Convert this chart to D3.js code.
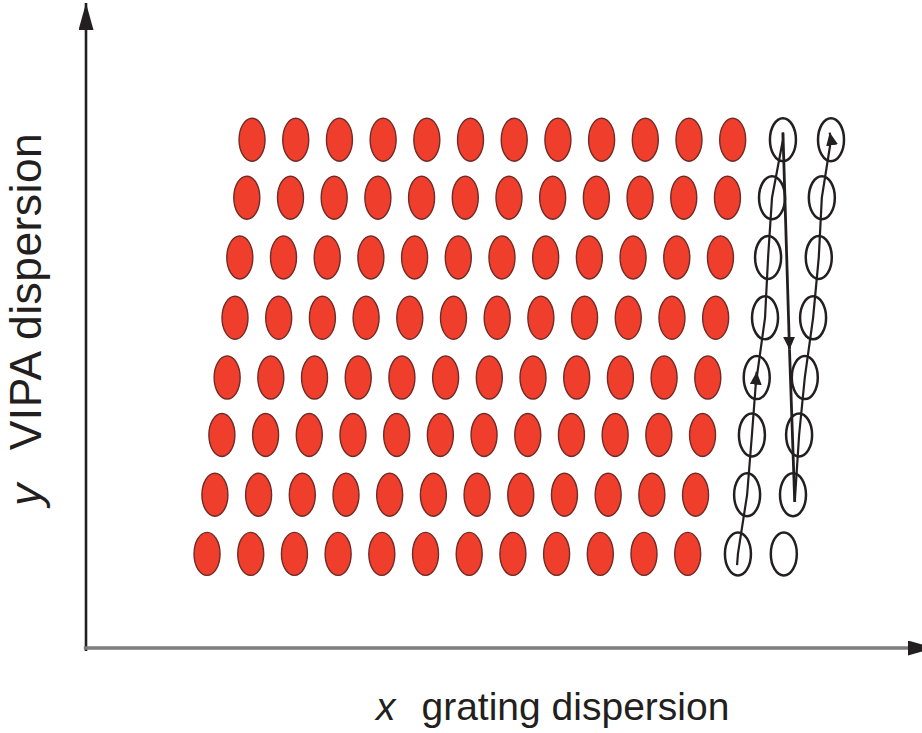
<!DOCTYPE html>
<html>
<head>
<meta charset="utf-8">
<script src="https://d3js.org/d3.v7.min.js"></script>
<style>
  body { margin: 0; background: #fff; }
  .lbl { font-family: "Liberation Sans", Arial, sans-serif; fill: #231f20; }
</style>
</head>
<body>
<div id="chart"></div>
<script>
// rows of the VIPA (height above x axis), top row first
const vipaLevels = [8.59, 7.61, 6.60, 5.58, 4.57, 3.60, 2.59, 1.59];
// grating position of the first red spot in each row (rows tilt)
const rowStart = [3.80, 3.68, 3.52, 3.41, 3.23, 3.11, 2.95, 2.77];
// 12 grating steps per row
const gratingSteps = [0, 1, 2, 3, 4, 5, 6, 7, 8, 9, 10, 11];
// the two open (unfilled) columns, top row first
const openA = [15.95, 15.70, 15.61, 15.54, 15.35, 15.24, 15.13, 14.92];
const openB = [17.05, 16.84, 16.77, 16.64, 16.45, 16.32, 16.18, 15.97];
// scan path key points [x, level]
const scanAStart = [14.90, 1.40];
const scanAArrow = [15.35, 4.67];
const scanATop = [15.95, 8.71];
const fallArrow = [16.10, 5.04];
const fallEnd = [16.22, 2.47];
const scanBTop = [17.02, 8.71];

const w = 922;
const h = 733;

const svg = d3.select('#chart')
              .append('svg')
              .attr('width', w)
              .attr('height', h);

// 1 unit ~ 43.7px across, 59.1px up
const xScale = d3.scaleLinear().domain([0, 19.43]).range([86, 935]);
const yScale = d3.scaleLinear().domain([0, 10.9]).range([648, 3]);

const line = d3.line().x(d => xScale(d[0])).y(d => yScale(d[1]));

// arrow heads
const defs = svg.append('defs');
function marker(id, len, wid) {
  defs.append('marker')
      .attr('id', id)
      .attr('viewBox', '0 0 10 10')
      .attr('refX', 10)
      .attr('refY', 5)
      .attr('markerUnits', 'userSpaceOnUse')
      .attr('markerWidth', len)
      .attr('markerHeight', wid)
      .attr('orient', 'auto')
      .attr('preserveAspectRatio', 'none')
      .append('path')
      .attr('d', 'M0,0 L10,5 L0,10 z')
      .attr('fill', '#231f20');
}
marker('axisHead', 27, 15);
marker('scanHead', 13, 12);

// axes
svg.append('path')
   .attr('d', line([[0, -0.05], [0, 10.9]]))
   .attr('stroke', '#231f20')
   .attr('stroke-width', 2.6)
   .attr('fill', 'none')
   .attr('marker-end', 'url(#axisHead)');
svg.append('path')
   .attr('d', line([[-0.05, 0], [19.43, 0]]))
   .attr('stroke', '#7d7d7d')
   .attr('stroke-width', 3.6)
   .attr('fill', 'none')
   .attr('marker-end', 'url(#axisHead)');

// red spots
const spots = [];
vipaLevels.forEach((lv, r) => {
  gratingSteps.forEach(g => spots.push([rowStart[r] + g, lv]));
});
svg.selectAll('ellipse.spot')
   .data(spots)
   .enter()
   .append('ellipse')
   .attr('class', 'spot')
   .attr('cx', d => xScale(d[0]))
   .attr('cy', d => yScale(d[1]))
   .attr('rx', 13)
   .attr('ry', 21.5)
   .attr('fill', '#ef3e2b')
   .attr('stroke', '#6e2b27')
   .attr('stroke-width', 1.4);

// open spots
const openSpots = vipaLevels.map((lv, i) => [openA[i], lv])
                  .concat(vipaLevels.map((lv, i) => [openB[i], lv]));
svg.selectAll('ellipse.open')
   .data(openSpots)
   .enter()
   .append('ellipse')
   .attr('class', 'open')
   .attr('cx', d => xScale(d[0]))
   .attr('cy', d => yScale(d[1]))
   .attr('rx', 13)
   .attr('ry', 21.5)
   .attr('fill', 'none')
   .attr('stroke', '#231f20')
   .attr('stroke-width', 2.5);

// scan lines
const colA = vipaLevels.map((lv, i) => [openA[i], lv]).reverse(); // bottom -> top
const colB = vipaLevels.map((lv, i) => [openB[i], lv]).reverse();
const scans = [
  { pts: [scanAStart].concat(colA.slice(0, 3), [scanAArrow]), head: true, sw: 2.2 },
  { pts: colA.slice(3).concat([scanATop]), head: false, sw: 2.2 },
  { pts: [scanATop, fallArrow], head: true, sw: 2.8 },
  { pts: [fallArrow, fallEnd], head: false, sw: 2.8 },
  { pts: [fallEnd].concat(colB.slice(2), [scanBTop]), head: true, sw: 2.2 }
];
svg.selectAll('path.scan')
   .data(scans)
   .enter()
   .append('path')
   .attr('class', 'scan')
   .attr('d', d => line(d.pts))
   .attr('fill', 'none')
   .attr('stroke', '#231f20')
   .attr('stroke-width', d => d.sw)
   .attr('marker-end', d => d.head ? 'url(#scanHead)' : null);

// labels
const xl = svg.append('text')
   .attr('class', 'lbl')
   .attr('x', 376)
   .attr('y', 720)
   .style('font-size', '39px');
xl.append('tspan').style('font-style', 'italic').text('x');
xl.append('tspan').attr('dx', 26).text('grating dispersion');

const yl = svg.append('text')
   .attr('class', 'lbl')
   .attr('transform', 'translate(41,506) rotate(-90)')
   .style('font-size', '44.5px')
   .style('letter-spacing', '0.45px');
yl.append('tspan').style('font-style', 'italic').text('y');
yl.append('tspan').attr('dx', 33).text('VIPA dispersion');
</script>
</body>
</html>
